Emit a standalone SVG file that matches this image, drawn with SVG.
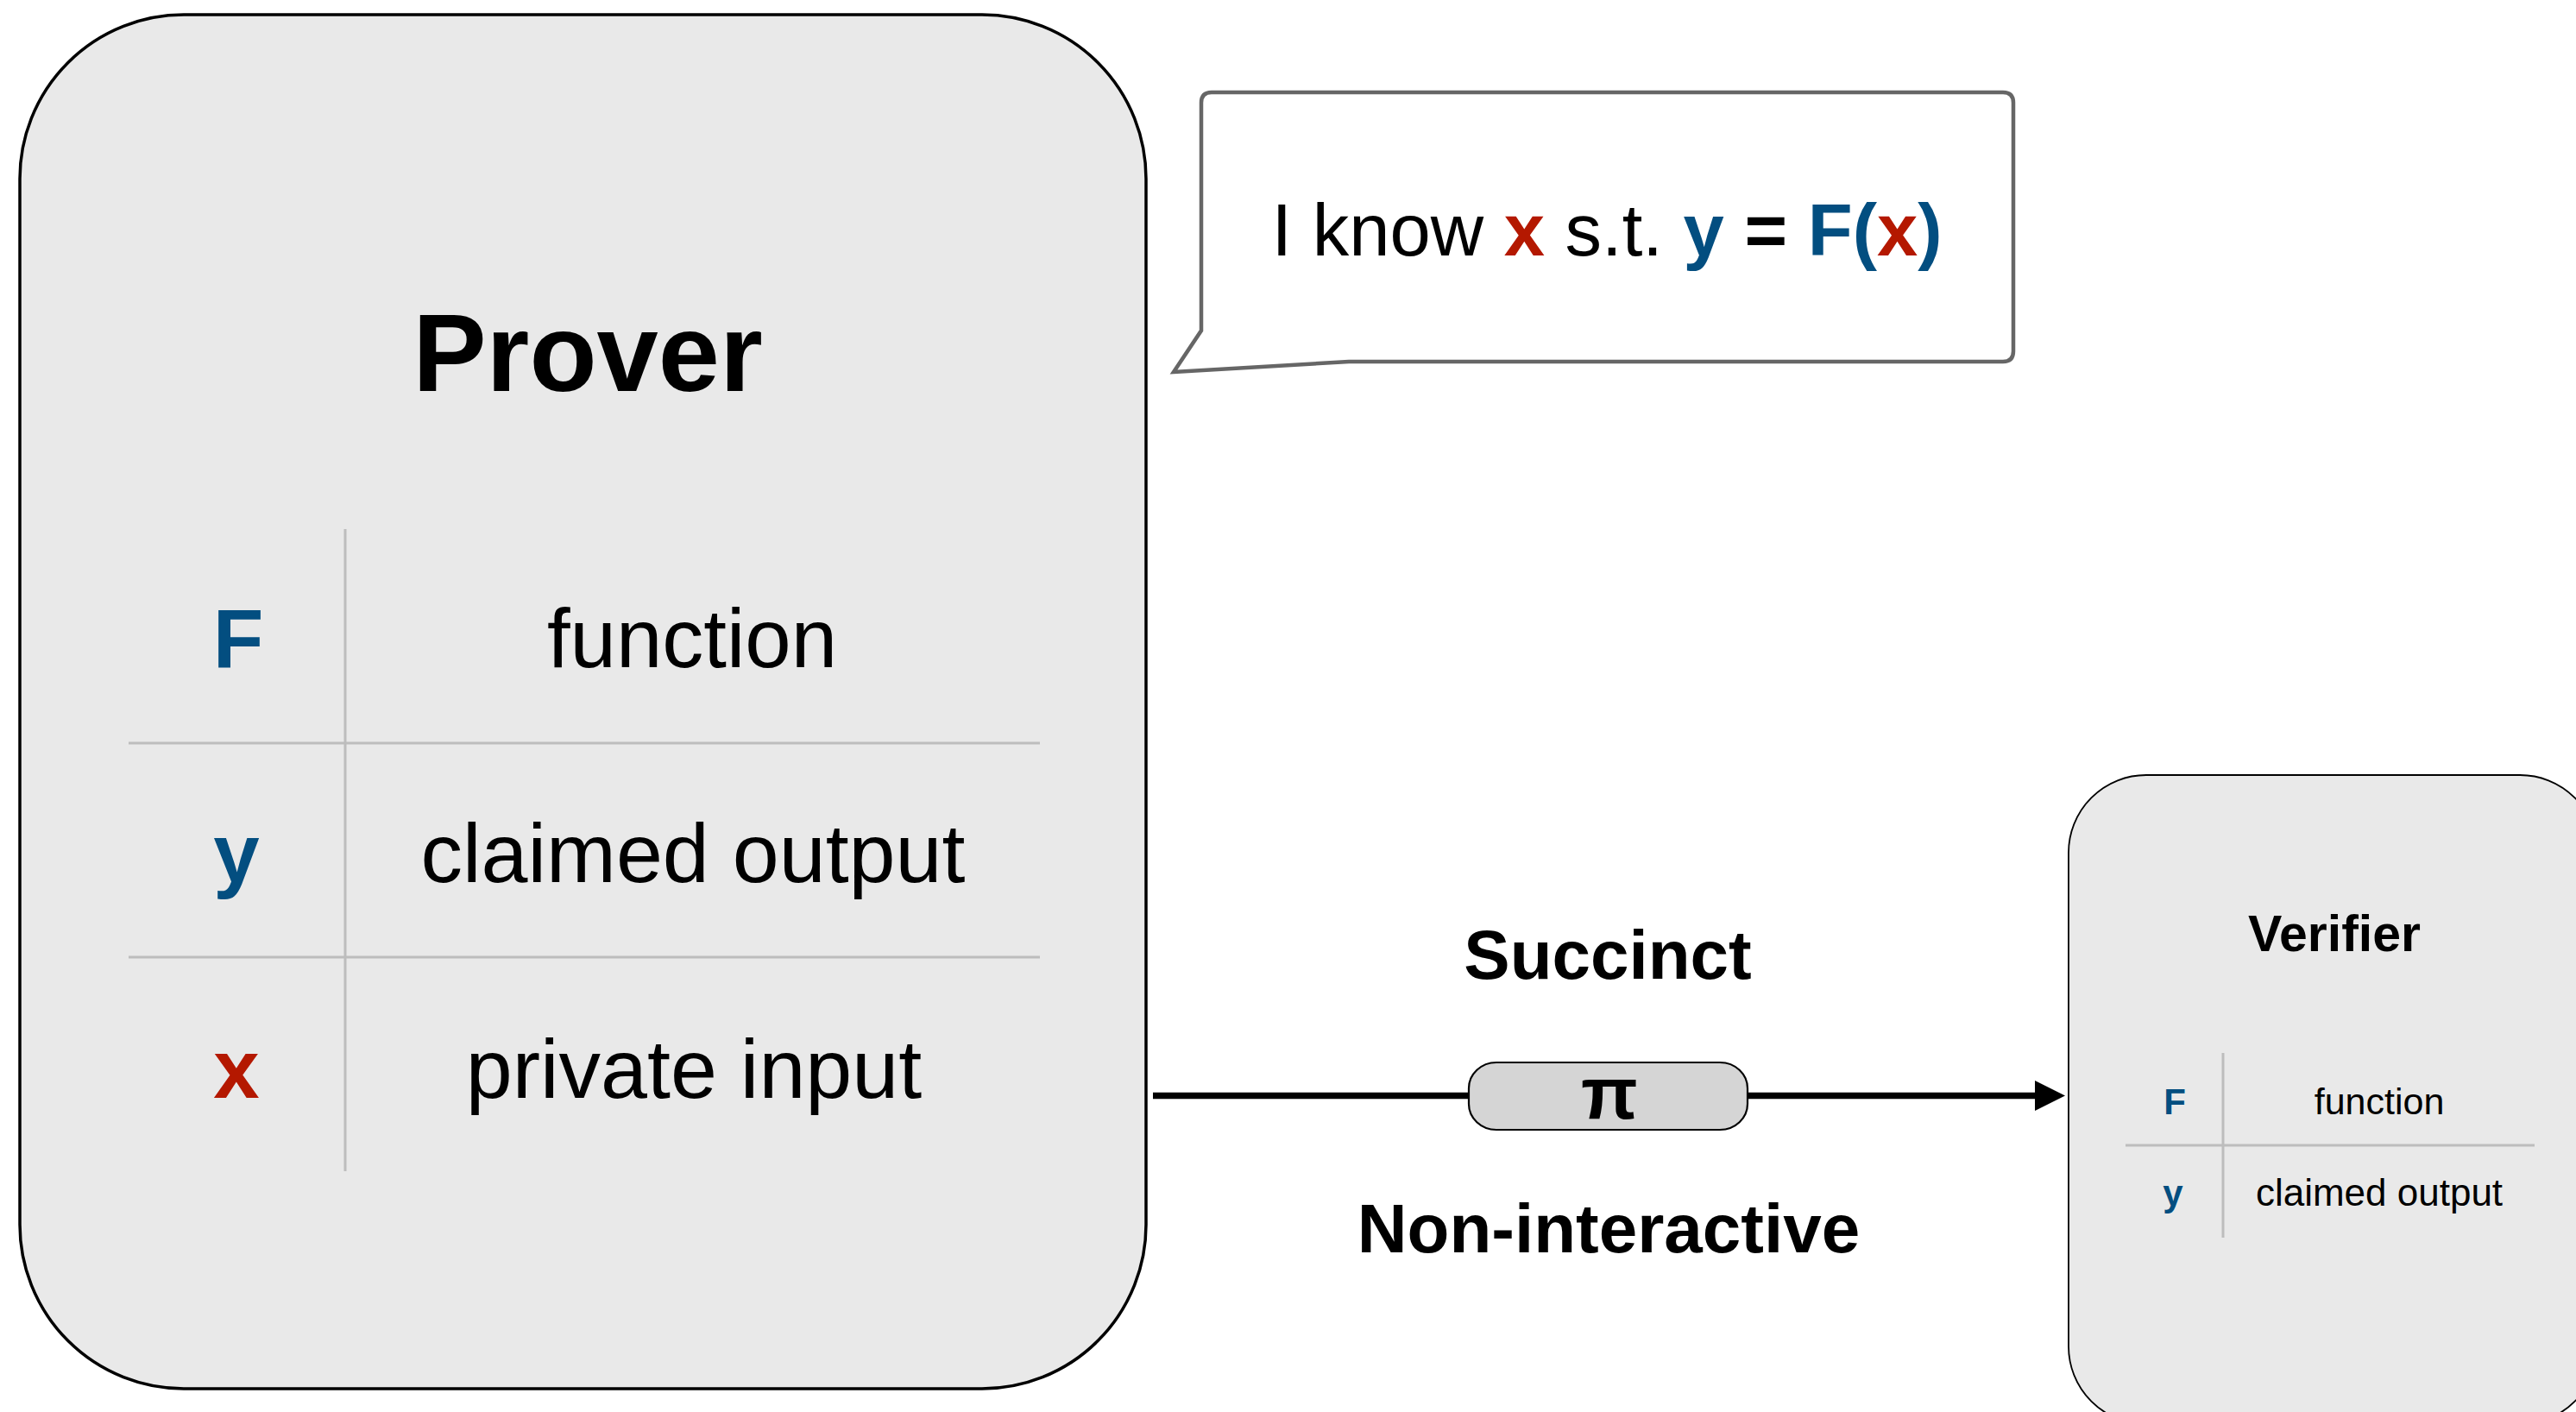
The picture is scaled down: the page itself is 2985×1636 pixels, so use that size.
<svg xmlns="http://www.w3.org/2000/svg" width="2985" height="1636" viewBox="0 0 2985 1636">
  <style>
    text { font-family: "Liberation Sans", Arial, Helvetica, sans-serif; fill: #000; }
    .box { fill: #e9e9e9; stroke: #000; }
    .grid { stroke: #bdbdbd; stroke-width: 3; fill: none; }
    .bold { font-weight: bold; }
    .mid { text-anchor: middle; }
    .blue { fill: #034e80; font-weight: bold; }
    .red { fill: #b41800; font-weight: bold; }
  </style>
  <defs>
    <marker id="arrowhead" markerUnits="userSpaceOnUse" markerWidth="36" markerHeight="36" refX="0" refY="17.5" orient="auto">
      <path d="M0,0 L35,17.5 L0,35 Z" fill="#000"/>
    </marker>
  </defs>

  <!-- Prover -->
  <g id="prover">
    <rect class="box" x="23" y="17" width="1305" height="1592" rx="190" ry="190" stroke-width="3.5"/>
    <text class="mid bold" x="681" y="453" font-size="128">Prover</text>
    <line class="grid" x1="400" y1="613" x2="400" y2="1357"/>
    <line class="grid" x1="149" y1="861" x2="1205" y2="861"/>
    <line class="grid" x1="149" y1="1109" x2="1205" y2="1109"/>
    <text class="mid blue" x="276" y="773" font-size="96">F</text>
    <text class="mid" x="802" y="773" font-size="96">function</text>
    <text class="mid blue" x="274" y="1022" font-size="96">y</text>
    <text class="mid" x="803" y="1022" font-size="97">claimed output</text>
    <text class="mid red" x="274" y="1272" font-size="96">x</text>
    <text class="mid" x="804" y="1272" font-size="97">private input</text>
  </g>

  <!-- Speech bubble -->
  <g id="claim">
    <path d="M1404,107 H2321 Q2333,107 2333,119 V407 Q2333,419 2321,419 H1563 L1360,431 L1392,383 V119 Q1392,107 1404,107 Z" fill="#fff" stroke="#666" stroke-width="4.5" stroke-linejoin="miter"/>
    <text class="mid" x="1862" y="296" font-size="85">I know <tspan class="red">x</tspan> s.t. <tspan class="blue">y</tspan> <tspan font-weight="bold">=</tspan> <tspan class="blue">F(</tspan><tspan class="red">x</tspan><tspan class="blue">)</tspan></text>
  </g>

  <!-- Verifier -->
  <g id="verifier">
    <rect class="box" x="2397" y="898" width="613" height="752" rx="90" ry="90" stroke-width="1.8"/>
    <text class="mid bold" x="2705" y="1102" font-size="59">Verifier</text>
    <line class="grid" x1="2576" y1="1220" x2="2576" y2="1434" stroke-width="2"/>
    <line class="grid" x1="2463" y1="1327" x2="2937" y2="1327" stroke-width="2"/>
    <text class="mid blue" x="2520" y="1291" font-size="42">F</text>
    <text class="mid" x="2757" y="1291" font-size="43">function</text>
    <text class="mid blue" x="2518" y="1397" font-size="42">y</text>
    <text class="mid" x="2757" y="1397" font-size="44">claimed output</text>
  </g>

  <!-- Connectors -->
  <g id="connectors">
    <line x1="1336" y1="1269.5" x2="2358" y2="1269.5" stroke="#000" stroke-width="7.5" marker-end="url(#arrowhead)"/>
    <g id="proof">
      <rect x="1702" y="1231" width="323" height="78" rx="32" ry="30" fill="#d5d5d5" stroke="#000" stroke-width="2.2"/>
      <text class="mid bold" x="1865" y="1296" font-size="86">π</text>
    </g>
    <text class="mid bold" x="1863" y="1134" font-size="80">Succinct</text>
    <text class="mid bold" x="1864" y="1451" font-size="80">Non-interactive</text>
  </g>
</svg>
